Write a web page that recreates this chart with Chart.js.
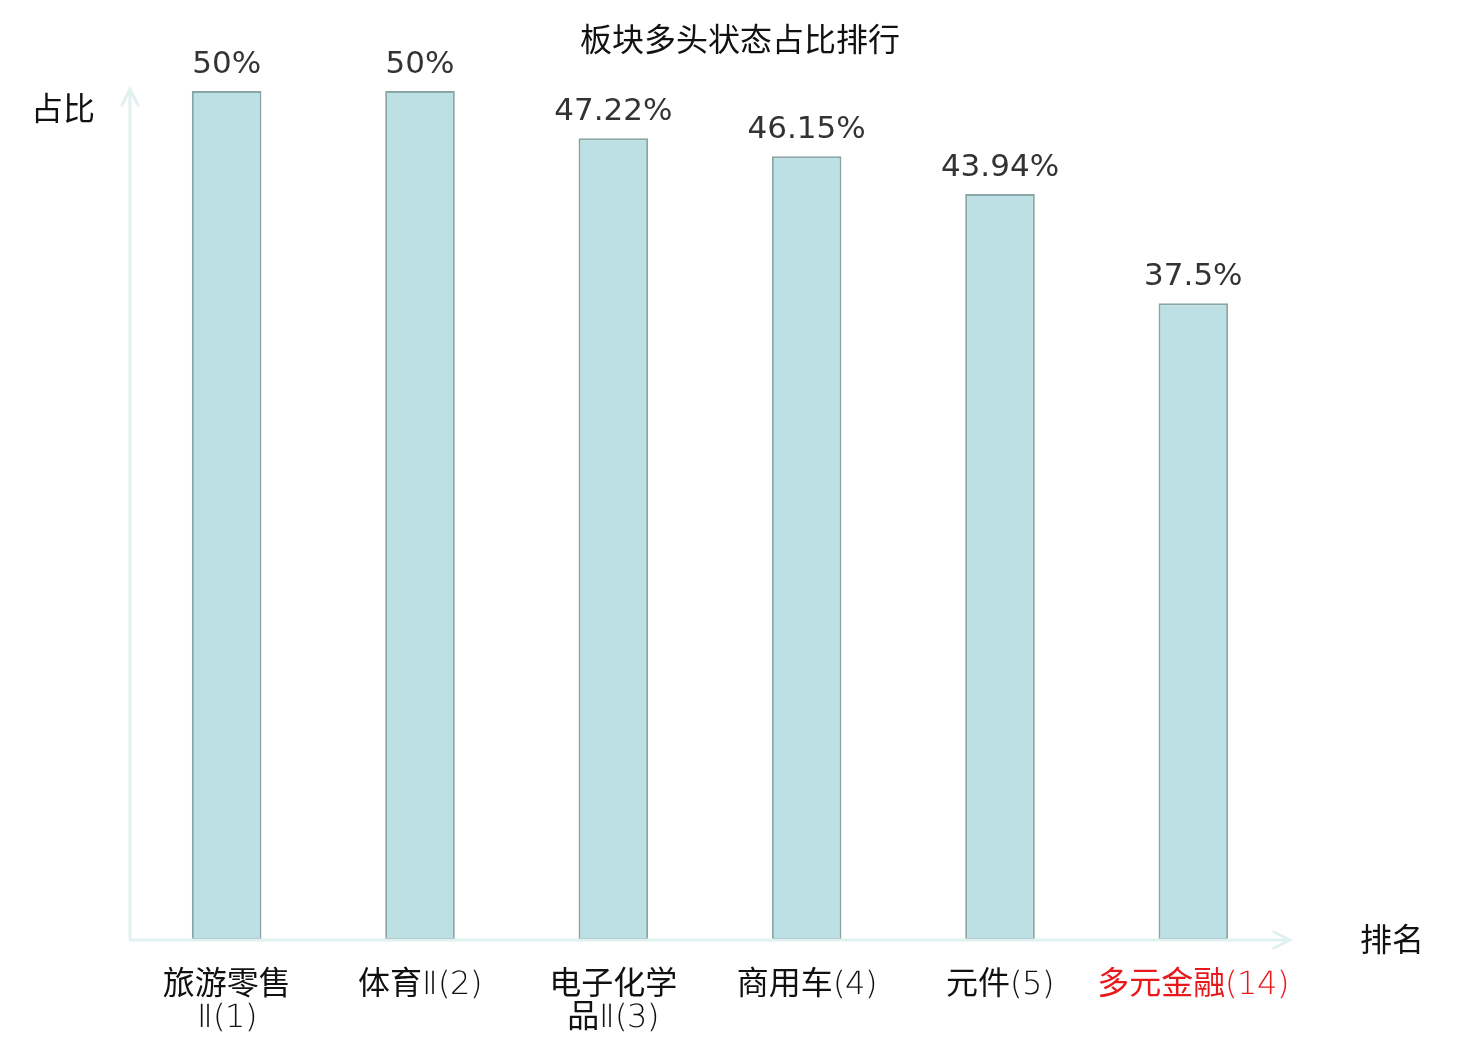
<!DOCTYPE html>
<html>
<head>
<meta charset="utf-8">
<script src="https://cdn.jsdelivr.net/npm/chart.js@4"></script>
<style>
  @font-face {
    font-family: 'TickLatin';
    src: local('DejaVu Sans ExtraLight'), local('DejaVuSans-ExtraLight');
  }
  html, body { margin: 0; padding: 0; background: #fff; }
  #wrap { width: 1480px; height: 1040px; }
</style>
</head>
<body>
<div id="wrap"><canvas id="rankChart"></canvas></div>
<script>
// chart data
const categories = [['旅游零售', 'Ⅱ(1)'], '体育Ⅱ(2)', ['电子化学', '品Ⅱ(3)'], '商用车(4)', '元件(5)', '多元金融(14)'];
const shares = [50, 50, 47.22, 46.15, 43.94, 37.5];
const highlightIndex = 5;

const chartTitle = '板块多头状态占比排行';
const yTitle = '占比';
const xTitle = '排名';

const FONT = "'DejaVu Sans', 'Noto Sans CJK SC', sans-serif";
const TICK_FONT = "'TickLatin', 'Noto Sans CJK SC', sans-serif";
const AXIS_COLOR = '#dff2ef';

// draws title, arrow axes, axis names and value labels
const decorPlugin = {
    id: 'decor',
    afterDatasetsDraw(chart) {
        const ctx = chart.ctx;
        const area = chart.chartArea;
        ctx.save();

        // axes with arrows
        ctx.strokeStyle = AXIS_COLOR;
        ctx.lineWidth = 3;
        ctx.lineCap = 'round';
        ctx.beginPath();
        ctx.moveTo(area.left, area.bottom);
        ctx.lineTo(area.left, area.top - 2);
        ctx.moveTo(area.left - 8, area.top + 14);
        ctx.lineTo(area.left, area.top - 2);
        ctx.lineTo(area.left + 8, area.top + 14);
        ctx.moveTo(area.left, area.bottom);
        ctx.lineTo(area.right, area.bottom);
        ctx.moveTo(area.right - 16, area.bottom - 8);
        ctx.lineTo(area.right, area.bottom);
        ctx.lineTo(area.right - 16, area.bottom + 8);
        ctx.stroke();

        // title and axis names
        ctx.fillStyle = '#111';
        ctx.font = '32px ' + FONT;
        ctx.textAlign = 'center';
        ctx.textBaseline = 'middle';
        ctx.fillText(chartTitle, chart.width / 2, 43);
        ctx.fillText(yTitle, 63, 112);
        ctx.fillText(xTitle, 1392, 943);

        // value labels over bars
        ctx.fillStyle = '#333';
        ctx.font = '31px ' + FONT;
        ctx.textBaseline = 'alphabetic';
        const meta = chart.getDatasetMeta(0);
        meta.data.forEach((bar, i) => {
            ctx.fillText(shares[i] + '%', bar.x, bar.y - 18);
        });
        ctx.restore();
    }
};

function drawChart() {
    const ctx = document.getElementById('rankChart').getContext('2d');
    new Chart(ctx, {
        type: 'bar',
        data: {
            labels: categories,
            datasets: [{
                data: shares,
                backgroundColor: '#bce0e3',
                borderColor: '#8aa5a6',
                borderWidth: 2,
                borderSkipped: false,
                barPercentage: 0.36,
                categoryPercentage: 1
            }]
        },
        options: {
            responsive: true,
            maintainAspectRatio: false,
            animation: false,
            layout: { padding: { left: 130, right: 190, top: 91, bottom: 0 } },
            plugins: {
                legend: { display: false },
                title: { display: false },
                tooltip: { enabled: false }
            },
            scales: {
                x: {
                    grid: { display: false },
                    border: { display: false },
                    ticks: {
                        padding: 21,
                        maxRotation: 0,
                        autoSkip: false,
                        font: { size: 32, family: TICK_FONT, lineHeight: 1.03 },
                        color: (c) => c.index === highlightIndex ? '#e8191c' : '#111'
                    },
                    afterFit: (scale) => { scale.height = 100; }
                },
                y: {
                    display: false,
                    min: 0,
                    max: 50
                }
            }
        },
        plugins: [decorPlugin]
    });
}

document.fonts.load("32px 'TickLatin'", '(1)Ⅱ').then(drawChart, drawChart);
</script>
</body>
</html>
